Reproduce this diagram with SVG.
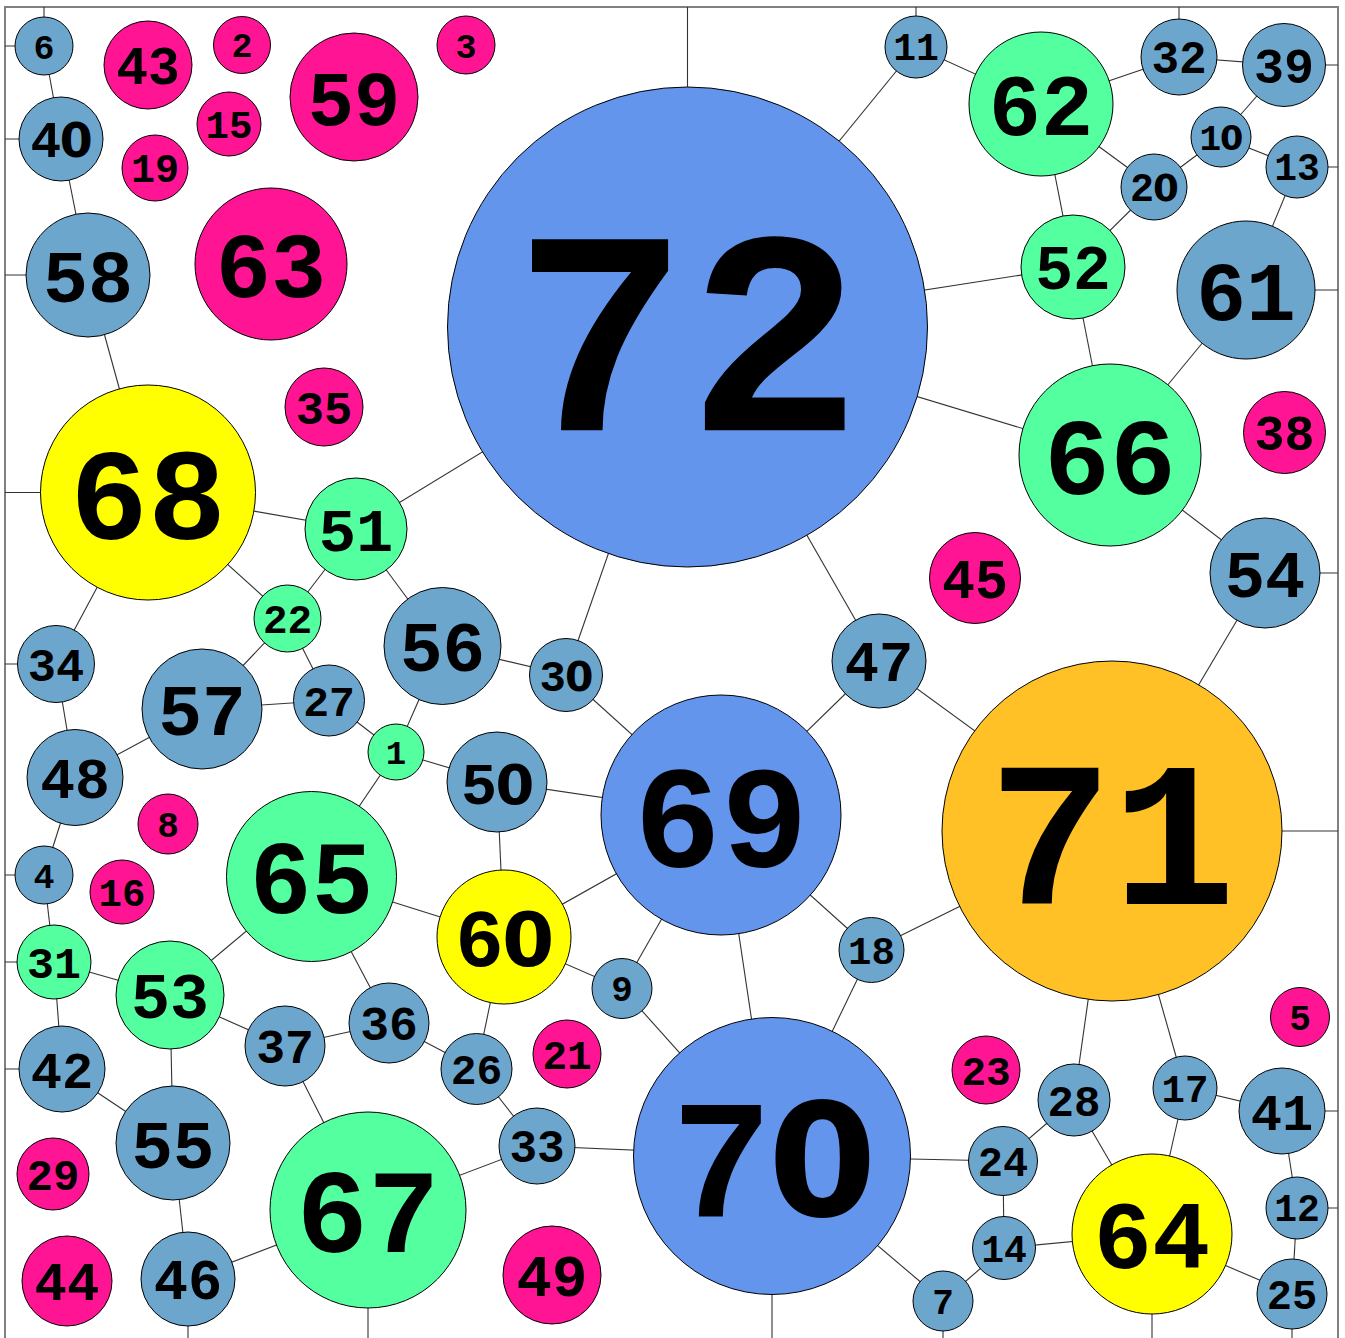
<svg xmlns="http://www.w3.org/2000/svg" width="1345" height="1338" viewBox="0 0 1345 1338">
<style>
.n circle{stroke:#000;stroke-width:1}
.n text{font-family:"Liberation Mono",monospace;font-weight:bold;text-anchor:middle;fill:#000}
.pk circle{fill:#FF1493}
.bl circle{fill:#6CA6CD}
.gr circle{fill:#54FF9F}
.ye circle{fill:#FFFF00}
.cb circle{fill:#6495ED}
.or circle{fill:#FFC125}
#edges line{stroke:#333;stroke-width:1.1}
#frame{fill:none;stroke:#808080;stroke-width:2}
</style>
<rect width="1345" height="1338" fill="#fff"/>
<path id="frame" d="M5,1338 V7 H1338 V1338"/>
<g id="edges">
<line x1="44" y1="46" x2="44" y2="7"/>
<line x1="44" y1="46" x2="5" y2="46"/>
<line x1="61" y1="139" x2="5" y2="139"/>
<line x1="88" y1="275" x2="5" y2="275"/>
<line x1="148" y1="492.5" x2="5" y2="492.5"/>
<line x1="56" y1="664" x2="5" y2="664"/>
<line x1="44" y1="875" x2="5" y2="875"/>
<line x1="54" y1="962" x2="5" y2="962"/>
<line x1="62" y1="1069" x2="5" y2="1069"/>
<line x1="188" y1="1279" x2="188" y2="1338"/>
<line x1="368" y1="1210" x2="368" y2="1338"/>
<line x1="772" y1="1156" x2="772" y2="1338"/>
<line x1="943" y1="1301" x2="943" y2="1338"/>
<line x1="1152" y1="1234" x2="1152" y2="1338"/>
<line x1="1292" y1="1294" x2="1292" y2="1338"/>
<line x1="687.5" y1="327" x2="687.5" y2="7"/>
<line x1="916" y1="47" x2="916" y2="7"/>
<line x1="1179" y1="57" x2="1179" y2="7"/>
<line x1="1284" y1="65" x2="1338" y2="65"/>
<line x1="1297" y1="167" x2="1338" y2="167"/>
<line x1="1246" y1="290" x2="1338" y2="290"/>
<line x1="1265" y1="573" x2="1338" y2="573"/>
<line x1="1112" y1="831" x2="1338" y2="831"/>
<line x1="1282" y1="1111" x2="1338" y2="1111"/>
<line x1="1297" y1="1208" x2="1338" y2="1208"/>
<line x1="44" y1="46" x2="61" y2="139"/>
<line x1="61" y1="139" x2="88" y2="275"/>
<line x1="88" y1="275" x2="148" y2="492.5"/>
<line x1="148" y1="492.5" x2="356" y2="529"/>
<line x1="148" y1="492.5" x2="287.5" y2="618.5"/>
<line x1="148" y1="492.5" x2="56" y2="664"/>
<line x1="356" y1="529" x2="687.5" y2="327"/>
<line x1="356" y1="529" x2="287.5" y2="618.5"/>
<line x1="356" y1="529" x2="442.5" y2="646"/>
<line x1="287.5" y1="618.5" x2="202" y2="709"/>
<line x1="287.5" y1="618.5" x2="329" y2="700.5"/>
<line x1="56" y1="664" x2="75" y2="777.5"/>
<line x1="202" y1="709" x2="329" y2="700.5"/>
<line x1="202" y1="709" x2="75" y2="777.5"/>
<line x1="329" y1="700.5" x2="396" y2="752"/>
<line x1="396" y1="752" x2="442.5" y2="646"/>
<line x1="396" y1="752" x2="497" y2="782"/>
<line x1="396" y1="752" x2="311.5" y2="876.5"/>
<line x1="75" y1="777.5" x2="44" y2="875"/>
<line x1="44" y1="875" x2="54" y2="962"/>
<line x1="54" y1="962" x2="170" y2="995"/>
<line x1="54" y1="962" x2="62" y2="1069"/>
<line x1="170" y1="995" x2="311.5" y2="876.5"/>
<line x1="170" y1="995" x2="173" y2="1143"/>
<line x1="170" y1="995" x2="285" y2="1046"/>
<line x1="62" y1="1069" x2="173" y2="1143"/>
<line x1="173" y1="1143" x2="188" y2="1279"/>
<line x1="188" y1="1279" x2="368" y2="1210"/>
<line x1="285" y1="1046" x2="389" y2="1023"/>
<line x1="285" y1="1046" x2="368" y2="1210"/>
<line x1="389" y1="1023" x2="311.5" y2="876.5"/>
<line x1="389" y1="1023" x2="476.5" y2="1069"/>
<line x1="476.5" y1="1069" x2="504" y2="937"/>
<line x1="476.5" y1="1069" x2="537" y2="1146"/>
<line x1="537" y1="1146" x2="368" y2="1210"/>
<line x1="537" y1="1146" x2="772" y2="1156"/>
<line x1="311.5" y1="876.5" x2="504" y2="937"/>
<line x1="504" y1="937" x2="497" y2="782"/>
<line x1="504" y1="937" x2="721" y2="815"/>
<line x1="504" y1="937" x2="622" y2="988.5"/>
<line x1="497" y1="782" x2="721" y2="815"/>
<line x1="442.5" y1="646" x2="566" y2="675"/>
<line x1="566" y1="675" x2="687.5" y2="327"/>
<line x1="566" y1="675" x2="721" y2="815"/>
<line x1="622" y1="988.5" x2="721" y2="815"/>
<line x1="622" y1="988.5" x2="772" y2="1156"/>
<line x1="721" y1="815" x2="879" y2="661"/>
<line x1="721" y1="815" x2="871.5" y2="950"/>
<line x1="721" y1="815" x2="772" y2="1156"/>
<line x1="879" y1="661" x2="687.5" y2="327"/>
<line x1="879" y1="661" x2="1112" y2="831"/>
<line x1="871.5" y1="950" x2="772" y2="1156"/>
<line x1="871.5" y1="950" x2="1112" y2="831"/>
<line x1="772" y1="1156" x2="1003" y2="1161"/>
<line x1="772" y1="1156" x2="943" y2="1301"/>
<line x1="687.5" y1="327" x2="916" y2="47"/>
<line x1="687.5" y1="327" x2="1073" y2="267"/>
<line x1="687.5" y1="327" x2="1110" y2="455"/>
<line x1="916" y1="47" x2="1041" y2="104"/>
<line x1="1041" y1="104" x2="1179" y2="57"/>
<line x1="1041" y1="104" x2="1154" y2="187"/>
<line x1="1041" y1="104" x2="1073" y2="267"/>
<line x1="1179" y1="57" x2="1284" y2="65"/>
<line x1="1284" y1="65" x2="1221" y2="137"/>
<line x1="1221" y1="137" x2="1154" y2="187"/>
<line x1="1221" y1="137" x2="1297" y2="167"/>
<line x1="1154" y1="187" x2="1073" y2="267"/>
<line x1="1297" y1="167" x2="1246" y2="290"/>
<line x1="1073" y1="267" x2="1110" y2="455"/>
<line x1="1246" y1="290" x2="1110" y2="455"/>
<line x1="1110" y1="455" x2="1265" y2="573"/>
<line x1="1265" y1="573" x2="1112" y2="831"/>
<line x1="1112" y1="831" x2="1074" y2="1100"/>
<line x1="1112" y1="831" x2="1185" y2="1088"/>
<line x1="1074" y1="1100" x2="1003" y2="1161"/>
<line x1="1074" y1="1100" x2="1152" y2="1234"/>
<line x1="1185" y1="1088" x2="1282" y2="1111"/>
<line x1="1185" y1="1088" x2="1152" y2="1234"/>
<line x1="1282" y1="1111" x2="1297" y2="1208"/>
<line x1="1297" y1="1208" x2="1292" y2="1294"/>
<line x1="1003" y1="1161" x2="1004" y2="1248"/>
<line x1="1004" y1="1248" x2="943" y2="1301"/>
<line x1="1004" y1="1248" x2="1152" y2="1234"/>
<line x1="1152" y1="1234" x2="1292" y2="1294"/>
</g>
<g id="n43" class="n pk"><circle cx="148" cy="65" r="44"/><text x="148" y="83.9" font-size="53">43</text></g>
<g id="n2" class="n pk"><circle cx="242" cy="45" r="28.5"/><text x="242" y="57.3" font-size="35">2</text></g>
<g id="n3" class="n pk"><circle cx="466" cy="45" r="29"/><text x="466" y="57.5" font-size="35">3</text></g>
<g id="n59" class="n pk"><circle cx="354" cy="97" r="64"/><text x="354" y="124.5" font-size="77">59</text></g>
<g id="n15" class="n pk"><circle cx="229" cy="124" r="32"/><text x="229" y="137.8" font-size="39">15</text></g>
<g id="n19" class="n pk"><circle cx="155" cy="168" r="33"/><text x="155" y="182.2" font-size="40">19</text></g>
<g id="n63" class="n pk"><circle cx="271" cy="264" r="76"/><text x="271" y="296.7" font-size="92">63</text></g>
<g id="n35" class="n pk"><circle cx="324" cy="407" r="39"/><text x="324" y="423.8" font-size="47">35</text></g>
<g id="n38" class="n pk"><circle cx="1284.5" cy="432.5" r="41"/><text x="1284.5" y="450.1" font-size="50">38</text></g>
<g id="n45" class="n pk"><circle cx="975" cy="578" r="45.5"/><text x="975" y="597.6" font-size="55">45</text></g>
<g id="n8" class="n pk"><circle cx="168" cy="824" r="30"/><text x="168" y="836.9" font-size="36">8</text></g>
<g id="n16" class="n pk"><circle cx="122" cy="892" r="32"/><text x="122" y="905.8" font-size="39">16</text></g>
<g id="n21" class="n pk"><circle cx="567" cy="1054" r="34"/><text x="567" y="1068.6" font-size="41">21</text></g>
<g id="n23" class="n pk"><circle cx="986" cy="1070" r="34"/><text x="986" y="1084.6" font-size="41">23</text></g>
<g id="n5" class="n pk"><circle cx="1300" cy="1017" r="29.5"/><text x="1300" y="1029.7" font-size="36">5</text></g>
<g id="n29" class="n pk"><circle cx="53" cy="1174" r="36"/><text x="53" y="1189.5" font-size="44">29</text></g>
<g id="n44" class="n pk"><circle cx="67" cy="1281" r="45"/><text x="67" y="1300.4" font-size="54">44</text></g>
<g id="n49" class="n pk"><circle cx="552" cy="1275" r="49"/><text x="552" y="1296.1" font-size="59">49</text></g>
<g id="n6" class="n bl"><circle cx="44" cy="46" r="29"/><text x="44" y="58.5" font-size="35">6</text></g>
<g id="n40" class="n bl"><circle cx="61" cy="139" r="42"/><text x="61.6" y="157.1" font-size="51">4<tspan font-family="DejaVu Sans" font-size="47.4" dx="-1.2">0</tspan></text></g>
<g id="n58" class="n bl"><circle cx="88" cy="275" r="62"/><text x="88" y="301.7" font-size="75">58</text></g>
<g id="n11" class="n bl"><circle cx="916" cy="47" r="31"/><text x="916" y="60.3" font-size="38">11</text></g>
<g id="n32" class="n bl"><circle cx="1179" cy="57" r="38"/><text x="1179" y="73.3" font-size="46">32</text></g>
<g id="n39" class="n bl"><circle cx="1284" cy="65" r="41.5"/><text x="1284" y="82.8" font-size="50">39</text></g>
<g id="n10" class="n bl"><circle cx="1221" cy="137" r="30"/><text x="1221.4" y="149.9" font-size="36">1<tspan font-family="DejaVu Sans" font-size="33.5" dx="-0.9">0</tspan></text></g>
<g id="n13" class="n bl"><circle cx="1297" cy="167" r="31"/><text x="1297" y="180.3" font-size="38">13</text></g>
<g id="n20" class="n bl"><circle cx="1154" cy="187" r="33"/><text x="1154.5" y="201.2" font-size="40">2<tspan font-family="DejaVu Sans" font-size="37.2" dx="-1">0</tspan></text></g>
<g id="n61" class="n bl"><circle cx="1246" cy="290" r="69"/><text x="1246" y="319.7" font-size="83">61</text></g>
<g id="n54" class="n bl"><circle cx="1265" cy="573" r="55"/><text x="1265" y="596.7" font-size="67">54</text></g>
<g id="n47" class="n bl"><circle cx="879" cy="661" r="47"/><text x="879" y="681.2" font-size="57">47</text></g>
<g id="n34" class="n bl"><circle cx="56" cy="664" r="38.5"/><text x="56" y="680.6" font-size="47">34</text></g>
<g id="n57" class="n bl"><circle cx="202" cy="709" r="60"/><text x="202" y="734.8" font-size="73">57</text></g>
<g id="n27" class="n bl"><circle cx="329" cy="700.5" r="35.5"/><text x="329" y="715.8" font-size="43">27</text></g>
<g id="n56" class="n bl"><circle cx="442.5" cy="646" r="58.5"/><text x="442.5" y="671.2" font-size="71">56</text></g>
<g id="n30" class="n bl"><circle cx="566" cy="675" r="36.5"/><text x="566.5" y="690.7" font-size="44">3<tspan font-family="DejaVu Sans" font-size="40.9" dx="-1.1">0</tspan></text></g>
<g id="n48" class="n bl"><circle cx="75" cy="777.5" r="48"/><text x="75" y="798.1" font-size="58">48</text></g>
<g id="n50" class="n bl"><circle cx="497" cy="782" r="50"/><text x="497.7" y="803.5" font-size="60">5<tspan font-family="DejaVu Sans" font-size="55.8" dx="-1.4">0</tspan></text></g>
<g id="n4" class="n bl"><circle cx="44" cy="875" r="29"/><text x="44" y="887.5" font-size="35">4</text></g>
<g id="n42" class="n bl"><circle cx="62" cy="1069" r="43"/><text x="62" y="1087.5" font-size="52">42</text></g>
<g id="n37" class="n bl"><circle cx="285" cy="1046" r="40"/><text x="285" y="1063.2" font-size="48">37</text></g>
<g id="n36" class="n bl"><circle cx="389" cy="1023" r="40"/><text x="389" y="1040.2" font-size="48">36</text></g>
<g id="n26" class="n bl"><circle cx="476.5" cy="1069" r="35.5"/><text x="476.5" y="1084.3" font-size="43">26</text></g>
<g id="n33" class="n bl"><circle cx="537" cy="1146" r="38"/><text x="537" y="1162.3" font-size="46">33</text></g>
<g id="n9" class="n bl"><circle cx="622" cy="988.5" r="30"/><text x="622" y="1001.4" font-size="36">9</text></g>
<g id="n18" class="n bl"><circle cx="871.5" cy="950" r="32.5"/><text x="871.5" y="964" font-size="39">18</text></g>
<g id="n55" class="n bl"><circle cx="173" cy="1143" r="57"/><text x="173" y="1167.5" font-size="69">55</text></g>
<g id="n46" class="n bl"><circle cx="188" cy="1279" r="47"/><text x="188" y="1299.2" font-size="57">46</text></g>
<g id="n28" class="n bl"><circle cx="1074" cy="1100" r="36"/><text x="1074" y="1115.5" font-size="44">28</text></g>
<g id="n17" class="n bl"><circle cx="1185" cy="1088" r="32"/><text x="1185" y="1101.8" font-size="39">17</text></g>
<g id="n41" class="n bl"><circle cx="1282" cy="1111" r="43"/><text x="1282" y="1129.5" font-size="52">41</text></g>
<g id="n24" class="n bl"><circle cx="1003" cy="1161" r="34.5"/><text x="1003" y="1175.8" font-size="42">24</text></g>
<g id="n14" class="n bl"><circle cx="1004" cy="1248" r="31.5"/><text x="1004" y="1261.5" font-size="38">14</text></g>
<g id="n7" class="n bl"><circle cx="943" cy="1301" r="30"/><text x="943" y="1313.9" font-size="36">7</text></g>
<g id="n12" class="n bl"><circle cx="1297" cy="1208" r="31"/><text x="1297" y="1221.3" font-size="38">12</text></g>
<g id="n25" class="n bl"><circle cx="1292" cy="1294" r="35"/><text x="1292" y="1309" font-size="42">25</text></g>
<g id="n62" class="n gr"><circle cx="1041" cy="104" r="72"/><text x="1041" y="135" font-size="87">62</text></g>
<g id="n52" class="n gr"><circle cx="1073" cy="267" r="52"/><text x="1073" y="289.4" font-size="63">52</text></g>
<g id="n66" class="n gr"><circle cx="1110" cy="455" r="91"/><text x="1110" y="494.1" font-size="110">66</text></g>
<g id="n51" class="n gr"><circle cx="356" cy="529" r="51"/><text x="356" y="550.9" font-size="62">51</text></g>
<g id="n22" class="n gr"><circle cx="287.5" cy="618.5" r="33.5"/><text x="287.5" y="632.9" font-size="41">22</text></g>
<g id="n1" class="n gr"><circle cx="396" cy="752" r="28"/><text x="396" y="764" font-size="34">1</text></g>
<g id="n65" class="n gr"><circle cx="311.5" cy="876.5" r="85"/><text x="311.5" y="913.1" font-size="103">65</text></g>
<g id="n31" class="n gr"><circle cx="54" cy="962" r="37"/><text x="54" y="977.9" font-size="45">31</text></g>
<g id="n53" class="n gr"><circle cx="170" cy="995" r="54"/><text x="170" y="1018.2" font-size="65">53</text></g>
<g id="n67" class="n gr"><circle cx="368" cy="1210" r="98"/><text x="368" y="1252.1" font-size="119">67</text></g>
<g id="n68" class="n ye"><circle cx="148" cy="492.5" r="107.5"/><text x="148" y="538.7" font-size="130">68</text></g>
<g id="n60" class="n ye"><circle cx="504" cy="937" r="67"/><text x="504.9" y="965.8" font-size="81">6<tspan font-family="DejaVu Sans" font-size="75.3" dx="-1.9">0</tspan></text></g>
<g id="n64" class="n ye"><circle cx="1152" cy="1234" r="80"/><text x="1152" y="1268.4" font-size="97">64</text></g>
<g id="n72" class="n cb"><circle cx="687.5" cy="327" r="240"/><text x="687.5" y="430.2" font-size="290">72</text></g>
<g id="n69" class="n cb"><circle cx="721" cy="815" r="120"/><text x="721" y="866.6" font-size="145">69</text></g>
<g id="n70" class="n cb"><circle cx="772" cy="1156" r="138.5"/><text x="773.9" y="1215.6" font-size="168">7<tspan font-family="DejaVu Sans" font-size="156.2" dx="-4">0</tspan></text></g>
<g id="n71" class="n or"><circle cx="1112" cy="831" r="170"/><text x="1112" y="904.1" font-size="206">71</text></g>
</svg>
